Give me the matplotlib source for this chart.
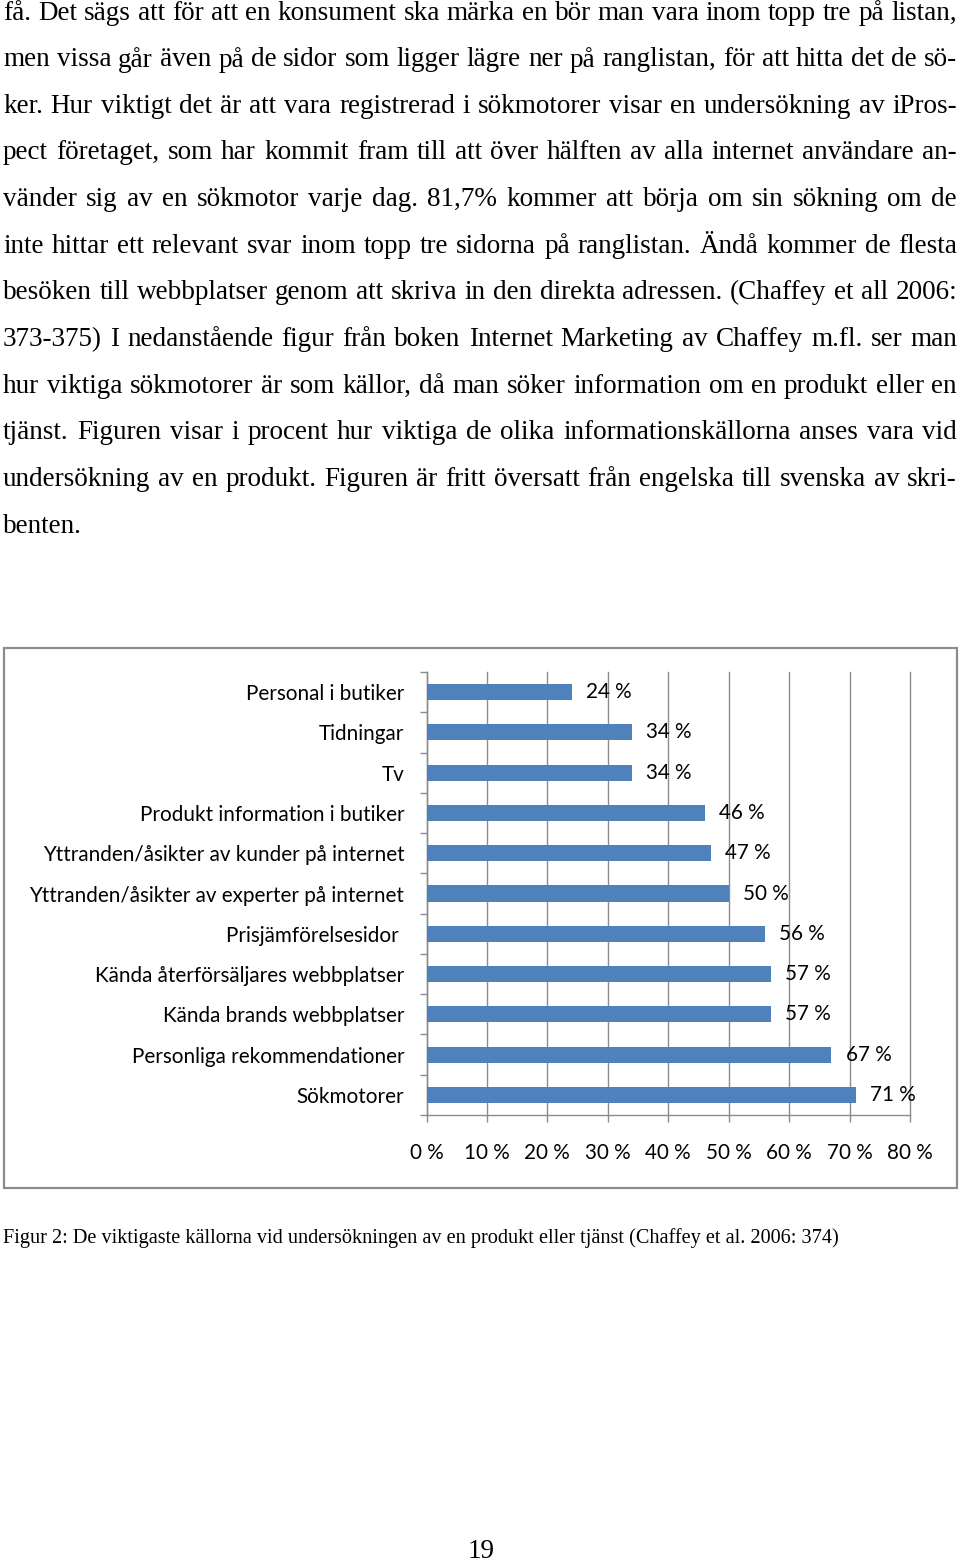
import matplotlib
matplotlib.use("Agg")
import matplotlib.pyplot as plt
from matplotlib.patches import Rectangle
from matplotlib.ticker import FixedLocator

# ---------------- data ----------------
categories = [
    "Personal i butiker",
    "Tidningar",
    "Tv",
    "Produkt information i butiker",
    "Yttranden/åsikter av kunder på internet",
    "Yttranden/åsikter av experter på internet",
    "Prisjämförelsesidor ",
    "Kända återförsäljares webbplatser",
    "Kända brands webbplatser",
    "Personliga rekommendationer",
    "Sökmotorer",
]
values = [24, 34, 34, 46, 47, 50, 56, 57, 57, 67, 71]
xticks = [0, 10, 20, 30, 40, 50, 60, 70, 80]
xtick_labels = [f"{t} %" for t in xticks]

body_lines = [
    "få. Det sägs att för att en konsument ska märka en bör man vara inom topp tre på listan,",
    "men vissa går även på de sidor som ligger lägre ner på ranglistan, för att hitta det de sö-",
    "ker. Hur viktigt det är att vara registrerad i sökmotorer visar en undersökning av iPros-",
    "pect företaget, som har kommit fram till att över hälften av alla internet användare an-",
    "vänder sig av en sökmotor varje dag. 81,7% kommer att börja om sin sökning om de",
    "inte hittar ett relevant svar inom topp tre sidorna på ranglistan. Ändå kommer de flesta",
    "besöken till webbplatser genom att skriva in den direkta adressen. (Chaffey et all 2006:",
    "373-375) I nedanstående figur från boken Internet Marketing av Chaffey m.fl. ser man",
    "hur viktiga sökmotorer är som källor, då man söker information om en produkt eller en",
    "tjänst. Figuren visar i procent hur viktiga de olika informationskällorna anses vara vid",
    "undersökning av en produkt. Figuren är fritt översatt från engelska till svenska av skri-",
    "benten.",
]
caption = "Figur 2: De viktigaste källorna vid undersökningen av en produkt eller tjänst (Chaffey et al. 2006: 374)"
page_number = "19"

# ---------------- figure ----------------
W, H = 960, 1565
fig = plt.figure(figsize=(W / 100, H / 100), dpi=100)
renderer = fig.canvas.get_renderer()

SERIF = "Liberation Serif"
SANS = "Lato"

def fx(px):
    return px / W

def fy(py):
    return 1 - py / H

def text_width(s, size, family):
    t = fig.text(0, 0, s, family=family, fontsize=size)
    w = t.get_window_extent(renderer).width
    t.remove()
    return w

# body text, justified
x_left, x_right = 3, 957
# font size chosen so that the widest justified line just fits
widest = max(text_width(l, 10, SERIF) for l in body_lines[:-1])
BODY_FS = 10 * (x_right - x_left - 4) / widest

y0, dy = 13, 46.65
space_w = text_width("a a", BODY_FS, SERIF) - text_width("aa", BODY_FS, SERIF)
for k, line in enumerate(body_lines):
    yc = y0 + k * dy
    words = line.split(" ")
    texts = [fig.text(0, fy(yc), w, family=SERIF, fontsize=BODY_FS, va="center", ha="left")
             for w in words]
    widths = [t.get_window_extent(renderer).width for t in texts]
    last = (k == len(body_lines) - 1)
    if last or len(words) == 1:
        gap = space_w
    else:
        gap = (x_right - x_left - sum(widths)) / (len(words) - 1)
    x = x_left
    for t, wdt in zip(texts, widths):
        t.set_x(fx(x))
        x += wdt + gap

# chart outer box
fig.patches.append(Rectangle((fx(4), fy(1188)), fx(953), (1188 - 648) / H,
                             transform=fig.transFigure, fill=False,
                             edgecolor="#8c8c8c", linewidth=1.6))

# axes
ax = fig.add_axes([fx(426.5), fy(1115), fx(483.5), 443 / H])
n = len(categories)
pos = list(range(n))
ax.barh(pos, values, height=0.4, color="#4F81BD", zorder=3)
ax.set_xlim(0, 80)
ax.set_ylim(n - 0.5, -0.5)

LAB_FS = 14.9
ax.xaxis.set_major_locator(FixedLocator(xticks))
ax.set_xticklabels(xtick_labels, fontsize=LAB_FS, family=SANS)
ax.tick_params(axis="x", direction="out", length=5, width=1, color="#8c8c8c",
               pad=15, labelcolor="black")

ax.set_yticks(pos)
ax.set_yticklabels(categories, fontsize=LAB_FS, family=SANS)
ax.tick_params(axis="y", which="major", length=0, pad=16)
ax.yaxis.set_minor_locator(FixedLocator([i - 0.5 for i in range(n + 1)]))
ax.tick_params(axis="y", which="minor", direction="out", length=5, width=1, color="#8c8c8c")

ax.grid(axis="x", color="#8c8c8c", linewidth=1, zorder=0)
ax.set_axisbelow(True)
for gl in ax.get_xgridlines():
    gl.set_clip_on(False)
for s in ["top", "right"]:
    ax.spines[s].set_visible(False)
for s in ["left", "bottom"]:
    ax.spines[s].set_color("#8c8c8c")
    ax.spines[s].set_linewidth(1)

for i, v in enumerate(values):
    ax.text(v + 2.35, i, f"{v} %", va="center", ha="left", fontsize=LAB_FS, family=SANS, zorder=4)

# caption and page number
fig.text(fx(3), fy(1238), caption, family=SERIF, fontsize=14.6, va="center", ha="left")
fig.text(fx(481), fy(1552), page_number, family=SERIF, fontsize=BODY_FS, va="center", ha="center")

fig.savefig("out.png", dpi=100, facecolor="white")
